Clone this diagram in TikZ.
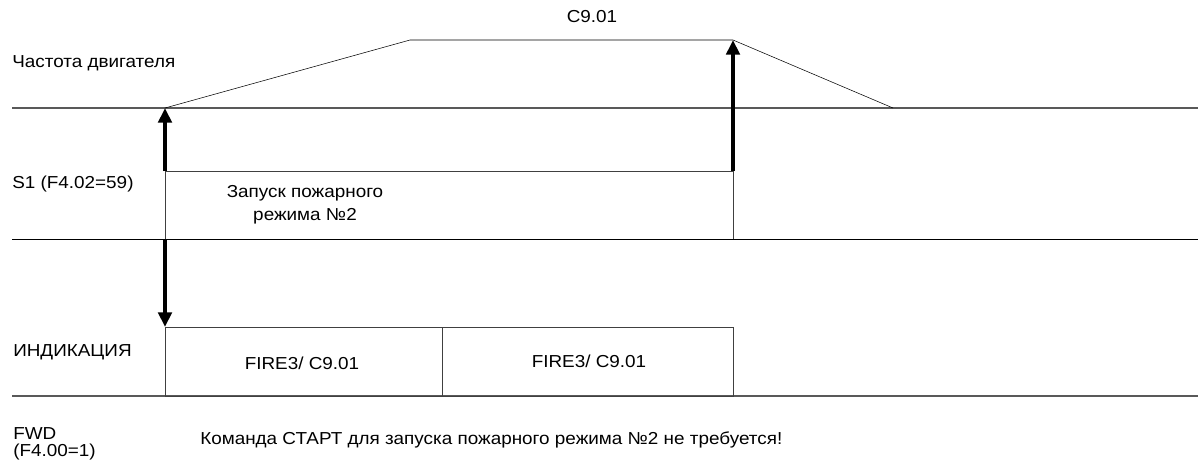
\documentclass[tikz,border=0pt]{standalone}
\usepackage{fontspec}
\setmainfont[FakeStretch=1.09]{Liberation Sans}
\usetikzlibrary{arrows.meta}

\begin{document}
\begin{tikzpicture}[x=0.75pt, y=-0.75pt,
  txt/.style={inner sep=0pt, font=\fontsize{13}{17}\selectfont},
  fat/.style={line width=3pt, -{Triangle[width=10pt, length=11pt]}},
  axis/.style={line width=1pt, black!65}]
\useasboundingbox (0,0) rectangle (1198,472);

% levels
\coordinate (a0) at (12,108);
\coordinate (a1) at (1198,108);
\coordinate (b0) at (12,239);
\coordinate (b1) at (1198,239);
\coordinate (c0) at (12,396);
\coordinate (c1) at (1198,396);
\draw[axis] (a0) -- (a1);
\draw[] (b0) -- (b1);
\draw[axis] (c0) -- (c1);

% motor frequency
\coordinate (f0) at (165,108);
\coordinate (f1) at (410,40);
\coordinate (f2) at (733,40);
\coordinate (f3) at (893,108);
\draw[] (f0) -- (f1) -- (f2) -- (f3);

% S1 pulse
\coordinate (s1tl) at (165,171);
\coordinate (s1tr) at (733,171);
\coordinate (s1bl) at (165,239);
\coordinate (s1br) at (733,239);
\draw[black!75] (s1bl) -- (s1tl) -- (s1tr) -- (s1br);

% indication
\coordinate (i1tl) at (165,327);
\coordinate (i1br) at (442,396);
\coordinate (i2tl) at (442,327);
\coordinate (i2br) at (733,396);
\draw[black!75] (i1tl) rectangle (i1br);
\draw[black!75] (i2tl) rectangle (i2br);

% arrows
\draw[fat] (s1tl) -- (f0);
\draw[fat] (s1tr) -- (f2);
\draw[fat] (s1bl) -- (i1tl);

% labels
\node[txt] (top) at (592,17) {C9.01};
\node[txt, anchor=west] (freq) at (12,63) {Частота двигателя};
\node[txt, anchor=west] (s1) at (12,184) {S1 (F4.02=59)};
\node[txt, align=center] (fire) at (305,205) {Запуск пожарного\\режима №2};
\node[txt, anchor=west] (ind) at (13,352) {ИНДИКАЦИЯ};
\node[txt] (d1) at (302,363) {FIRE3/ C9.01};
\node[txt] (d2) at (589,361) {FIRE3/ C9.01};
\node[txt, anchor=west, align=left, font=\fontsize{13}{12.5}\selectfont] (fwd) at (13,444) {FWD\\(F4.00=1)};
\node[txt, anchor=west] (note) at (200,440) {Команда СТАРТ для запуска пожарного режима №2 не требуется!};
\end{tikzpicture}
\end{document}
